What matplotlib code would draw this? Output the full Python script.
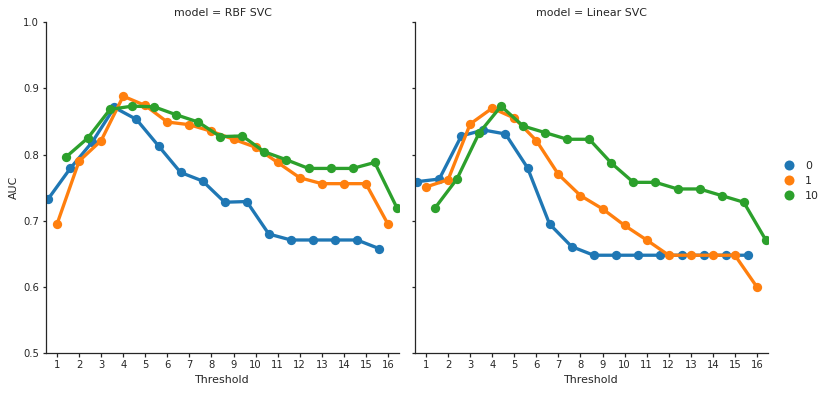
# Pointplot of AUC vs threshold for two SVC models, one panel per model
import numpy as np
import matplotlib
matplotlib.use('Agg')
from matplotlib import pyplot as plt
from matplotlib.lines import Line2D

thresholds = [str(i) for i in range(1, 17)]
models = ['RBF SVC', 'Linear SVC']
hue_levels = ['0', '1', '10']
colors = ['#1f77b4', '#ff7f0e', '#2ca02c']

# AUC values, per model and hue level
rbf_0 = [0.733, 0.779, 0.819, 0.871, 0.853, 0.813, 0.773, 0.760,
         0.728, 0.729, 0.680, 0.671, 0.671, 0.671, 0.671, 0.658]
rbf_1 = [0.695, 0.790, 0.821, 0.888, 0.874, 0.849, 0.845, 0.835,
         0.823, 0.811, 0.788, 0.765, 0.756, 0.756, 0.756, 0.695]
rbf_10 = [0.796, 0.825, 0.868, 0.873, 0.872, 0.860, 0.849, 0.827,
          0.828, 0.804, 0.792, 0.779, 0.779, 0.779, 0.788, 0.720]
lin_0 = [0.759, 0.763, 0.828, 0.837, 0.831, 0.780, 0.695, 0.661,
         0.648, 0.648, 0.648, 0.648, 0.648, 0.648, 0.648, 0.648]
lin_1 = [0.751, 0.762, 0.846, 0.870, 0.855, 0.821, 0.770, 0.738,
         0.718, 0.693, 0.671, 0.648, 0.648, 0.648, 0.648, 0.600]
lin_10 = [0.719, 0.763, 0.832, 0.873, 0.843, 0.833, 0.823, 0.823,
          0.787, 0.758, 0.758, 0.748, 0.748, 0.738, 0.728, 0.671]

data = {'RBF SVC': [rbf_0, rbf_1, rbf_10],
        'Linear SVC': [lin_0, lin_1, lin_10]}

text_color = '#262626'
plt.rcParams.update({
    'font.family': 'DejaVu Sans',
    'axes.edgecolor': text_color,
    'axes.linewidth': 1.25,
    'xtick.color': text_color,
    'ytick.color': text_color,
    'text.color': text_color,
    'axes.labelcolor': text_color,
    'xtick.major.size': 3.5,
    'ytick.major.size': 3.5,
    'xtick.major.width': 1.25,
    'ytick.major.width': 1.25,
})

fig = plt.figure(figsize=(830 / 72, 394 / 72), dpi=72)
ax1 = fig.add_axes([0.0554, 0.1033, 0.4253, 0.8409])
ax2 = fig.add_axes([0.5, 0.1033, 0.4253, 0.8409], sharey=ax1)

# dodge = 0.8 spread over the three hue levels
offsets = np.linspace(0, 0.8, len(hue_levels))
offsets -= offsets.mean()
x = np.arange(len(thresholds))

for ax, model in zip([ax1, ax2], models):
    for series, off, c in zip(data[model], offsets, colors):
        ax.plot(x + off, series, color=c, lw=3.3, marker='o',
                markersize=9.3, markeredgewidth=0, solid_capstyle='round')
    ax.set_xlim(-0.5, len(thresholds) - 0.5)
    ax.set_xticks(x)
    ax.set_xticklabels(thresholds, fontsize=10)
    ax.set_xlabel('Threshold', fontsize=11, labelpad=5)
    ax.set_title('model = ' + model, fontsize=11, pad=6)
    ax.spines['top'].set_visible(False)
    ax.spines['right'].set_visible(False)
    ax.tick_params(labelsize=10)

ax1.set_ylim(0.5, 1.0)
ax1.set_yticks([0.5, 0.6, 0.7, 0.8, 0.9, 1.0])
ax1.set_ylabel('AUC', fontsize=11)
plt.setp(ax2.get_yticklabels(), visible=False)

handles = [Line2D([], [], ls='none', marker='o', markersize=10,
                  markeredgewidth=0, color=c) for c in colors]
fig.legend(handles, hue_levels, loc='center left', bbox_to_anchor=(0.925, 0.54),
           frameon=False, fontsize=11, handletextpad=0.5, labelspacing=0.45)

fig.savefig('out.png', dpi=72)
